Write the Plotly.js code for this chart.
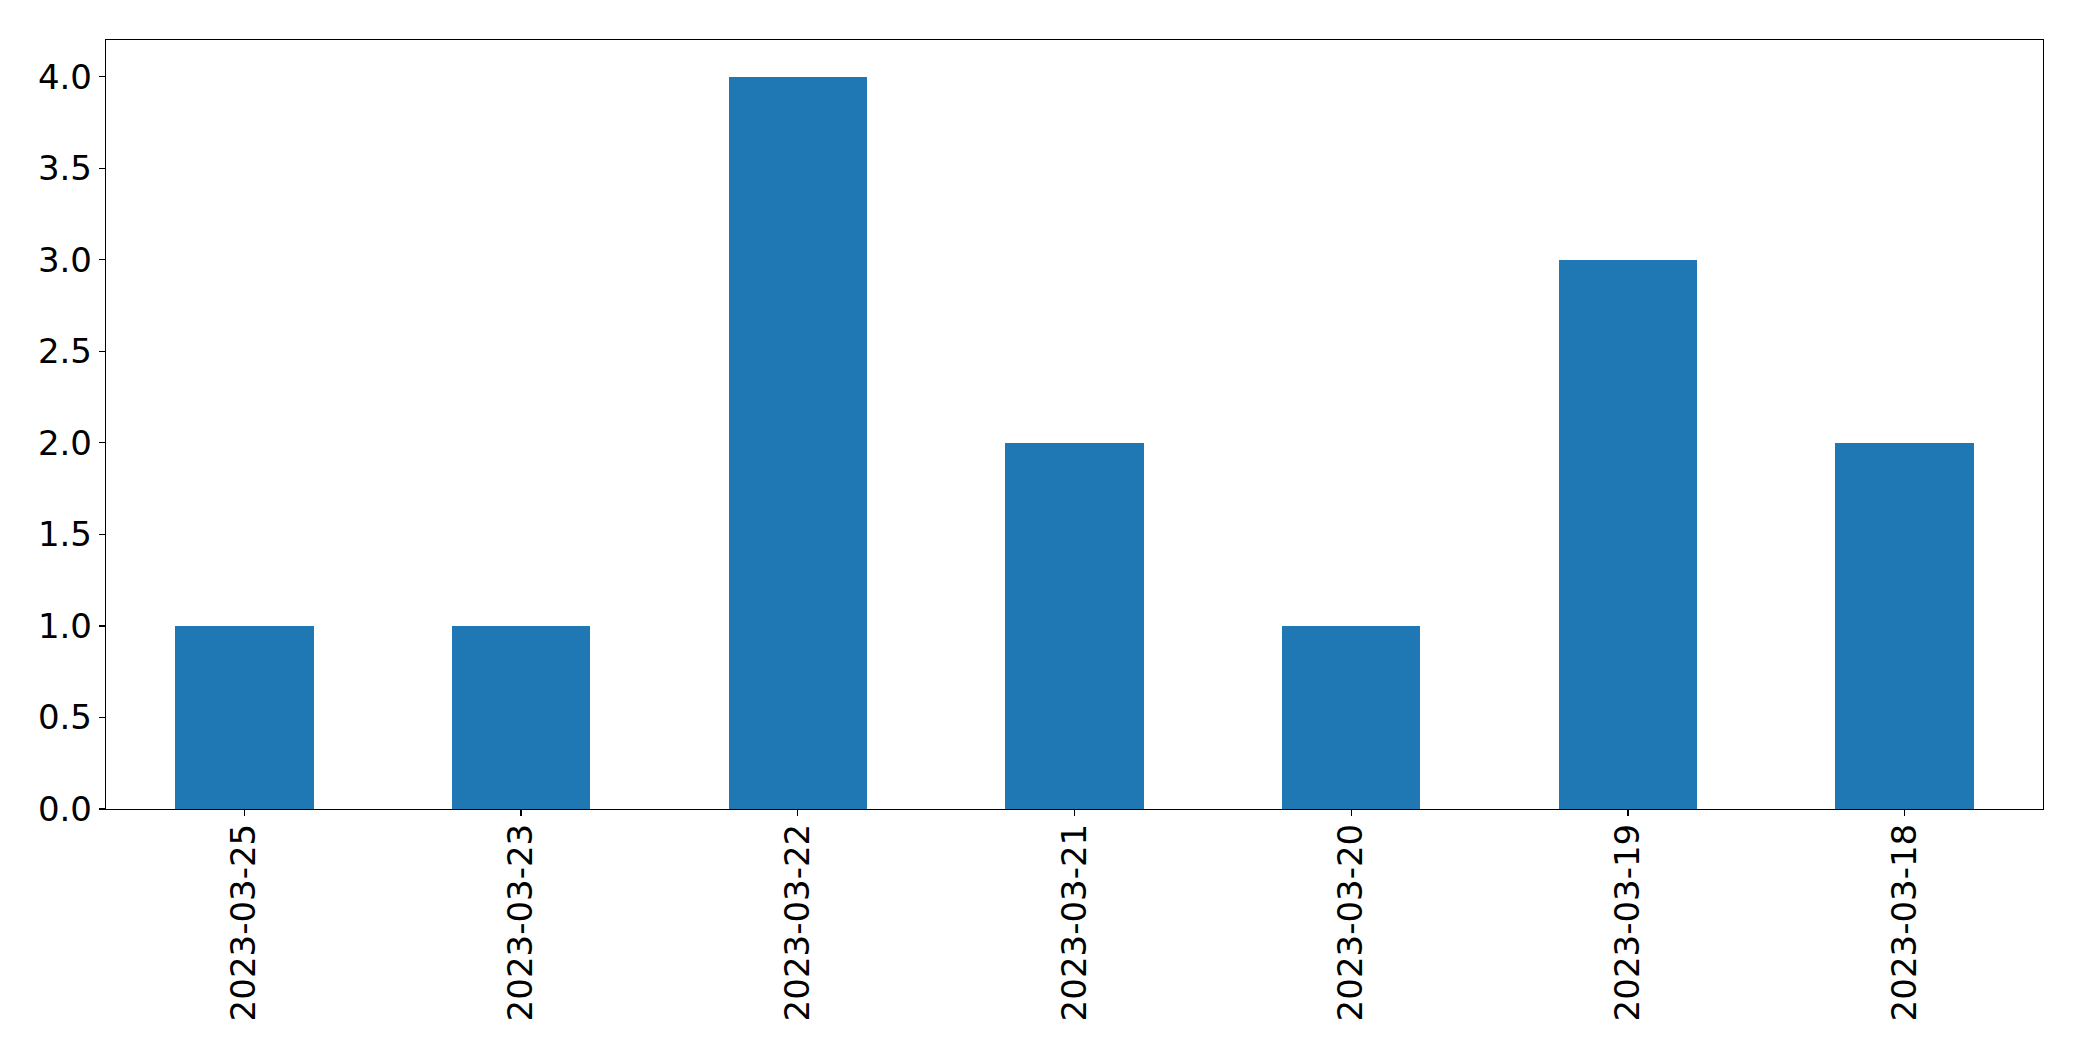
<!DOCTYPE html>
<html>
<head>
<meta charset="utf-8">
<script src="https://cdn.plot.ly/plotly-3.0.1.min.js"></script>
<style>
html, body { margin: 0; padding: 0; background: #fff; }
#chart { width: 2082px; height: 1061px; }
</style>
</head>
<body>
<div id="chart"></div>
<script>
const categories = ["2023-03-25", "2023-03-23", "2023-03-22", "2023-03-21", "2023-03-20", "2023-03-19", "2023-03-18"];
const counts = [1, 1, 4, 2, 1, 3, 2];
const yTickVals = [0, 0.5, 1, 1.5, 2, 2.5, 3, 3.5, 4];
const yTickText = ["0.0", "0.5", "1.0", "1.5", "2.0", "2.5", "3.0", "3.5", "4.0"];

const trace = {
  type: "bar",
  x: categories,
  y: counts,
  width: 0.5,
  marker: { color: "#1f77b4", line: { width: 0 } },
  hoverinfo: "x+y"
};

const layout = {
  width: 2082,
  height: 1061,
  margin: { l: 105.5, r: 38.5, t: 39.5, b: 252 },
  paper_bgcolor: "#ffffff",
  plot_bgcolor: "#ffffff",
  font: { family: "DejaVu Sans, sans-serif", color: "#000000", size: 34 },
  showlegend: false,
  bargap: 0,
  xaxis: {
    type: "category",
    range: [-0.5, 6.5],
    tickangle: -90,
    showgrid: false,
    zeroline: false,
    showline: true,
    linecolor: "#000000",
    linewidth: 1.2,
    mirror: true,
    ticks: "outside",
    ticklen: 6,
    tickwidth: 1.2,
    tickcolor: "#000000",
    ticklabelstandoff: -6,
    tickfont: { family: "DejaVu Sans, sans-serif", size: 34, color: "#000000" }
  },
  yaxis: {
    range: [0, 4.2],
    tickmode: "array",
    tickvals: yTickVals,
    ticktext: yTickText,
    showgrid: false,
    zeroline: false,
    showline: true,
    linecolor: "#000000",
    linewidth: 1.2,
    mirror: true,
    ticks: "outside",
    ticklen: 6,
    tickwidth: 1.2,
    tickcolor: "#000000",
    tickfont: { family: "DejaVu Sans, sans-serif", size: 34, color: "#000000" }
  }
};

Plotly.newPlot("chart", [trace], layout, { displayModeBar: false, staticPlot: true });
</script>
</body>
</html>
